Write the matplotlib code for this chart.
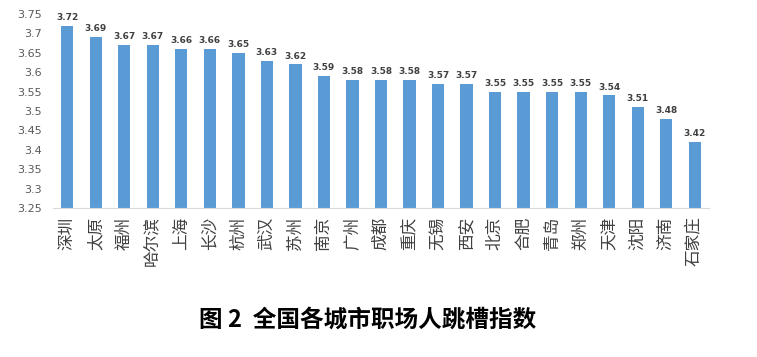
import matplotlib.pyplot as plt
import numpy as np

plt.rcParams['font.family'] = ['Noto Sans CJK SC', 'DejaVu Sans']

cities = ["深圳", "太原", "福州", "哈尔滨", "上海", "长沙", "杭州", "武汉", "苏州", "南京", "广州", "成都",
          "重庆", "无锡", "西安", "北京", "合肥", "青岛", "郑州", "天津", "沈阳", "济南", "石家庄"]
values = [3.72, 3.69, 3.67, 3.67, 3.66, 3.66, 3.65, 3.63, 3.62, 3.59, 3.58, 3.58,
          3.58, 3.57, 3.57, 3.55, 3.55, 3.55, 3.55, 3.54, 3.51, 3.48, 3.42]
yticks = [3.25, 3.3, 3.35, 3.4, 3.45, 3.5, 3.55, 3.6, 3.65, 3.7, 3.75]
ytick_labels = ["3.25", "3.3", "3.35", "3.4", "3.45", "3.5", "3.55", "3.6", "3.65", "3.7", "3.75"]

fig = plt.figure(figsize=(7.57, 3.57), dpi=100)
ax = fig.add_axes([0.070, 0.4174, 0.8666, 0.5434])

x = np.arange(len(cities))
base = 3.25
bars = ax.bar(x, np.array(values) - base, width=0.43, color="#5B9BD5", bottom=base)
for b, v in zip(bars, values):
    ax.text(b.get_x() + b.get_width() / 2, v + 0.01, f"{v:.2f}", ha="center", va="bottom",
            fontsize=6.5, fontweight="bold", color="#404040", family="DejaVu Sans")

ax.set_xlim(-0.5, len(cities) - 0.5)
ax.set_ylim(3.25, 3.75)
ax.set_yticks(yticks)
ax.set_yticklabels(ytick_labels, fontsize=8, color="#595959", family="DejaVu Sans")
ax.set_xticks(x)
ax.set_xticklabels(cities, rotation=90, fontsize=12, color="#404040")
ax.tick_params(axis="both", length=0)
ax.tick_params(axis="y", pad=8)
ax.tick_params(axis="x", pad=6)

for s in ["top", "right", "left"]:
    ax.spines[s].set_visible(False)
ax.spines["bottom"].set_color("#d9d9d9")

fig.text(0.486, 0.104, "图 2  全国各城市职场人跳槽指数", ha="center", va="center",
         fontsize=17, fontweight="bold", color="black")

fig.savefig("out.png", dpi=100)
